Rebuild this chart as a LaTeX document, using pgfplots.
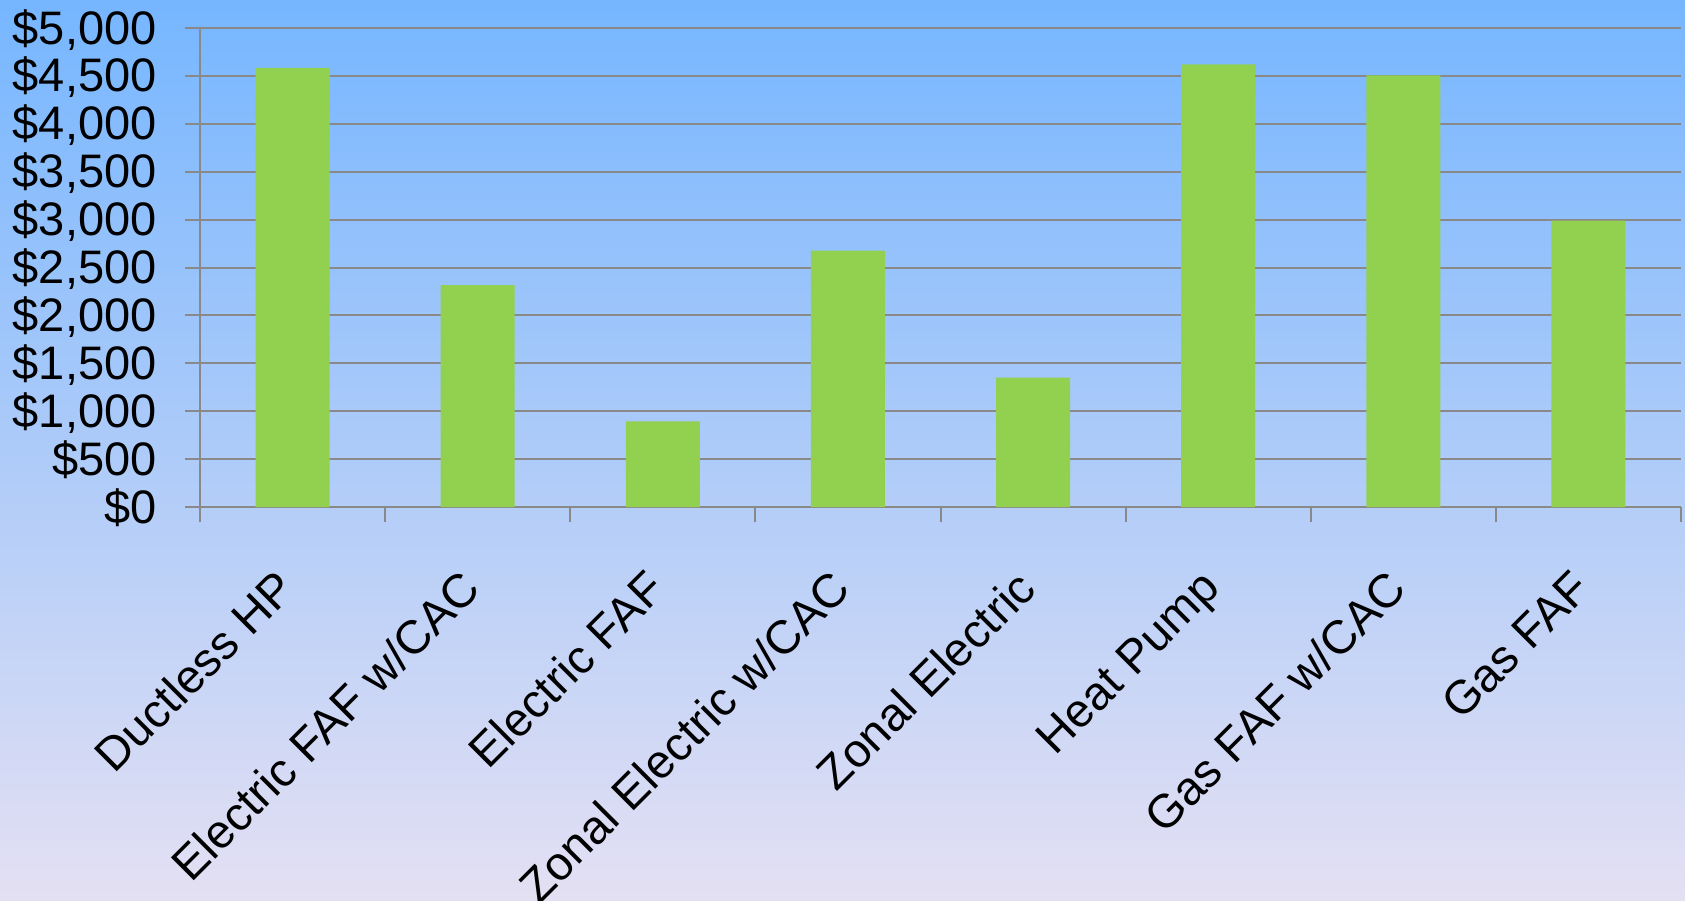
\documentclass[border=0pt]{standalone}
\usepackage{fontspec}
\setmainfont{Liberation Sans}
\usepackage{pgfplots}
\pgfplotsset{compat=1.18}
\definecolor{bgtop}{RGB}{118,182,255}
\definecolor{bgbot}{RGB}{228,224,243}
\definecolor{barg}{RGB}{146,208,80}
\definecolor{gridc}{RGB}{137,137,137}
\begin{document}
\begin{tikzpicture}
\path[use as bounding box] (0,0) rectangle (842.5pt,450pt);
\shade[top color=bgtop, bottom color=bgbot] (0,0) rectangle (842.5pt,450pt);
\begin{axis}[
  at={(100pt,196.5pt)}, anchor=south west,
  scale only axis, width=740.5pt, height=239.5pt,
  xmin=0, xmax=8, ymin=0, ymax=5000,
  axis x line*=bottom, axis y line*=left,
  axis line style={draw=gridc, line width=1pt},
  tick align=outside,
  major tick length=7.5pt,
  tick style={draw=gridc, line width=1pt},
  xtick={0,1,...,8},
  xticklabels={},
  extra x ticks={0.5,1.5,2.5,3.5,4.5,5.5,6.5,7.5},
  extra x tick labels={Ductless HP,Electric FAF w/CAC,Electric FAF,Zonal Electric w/CAC,Zonal Electric,Heat Pump,Gas FAF w/CAC,Gas FAF},
  extra x tick style={tick style={draw=none}},
  ytick={0,500,...,5000},
  yticklabels={\$0,\$500,{\$1,000},{\$1,500},{\$2,000},{\$2,500},{\$3,000},{\$3,500},{\$4,000},{\$4,500},{\$5,000}},
  ymajorgrids,
  grid style={draw=gridc, line width=1pt},
  tick label style={font=\fontsize{23.5}{28}\selectfont, text=black},
  xticklabel style={xshift=-9.5pt, yshift=-22.5pt, rotate=45, anchor=north east, inner sep=0pt},
  yticklabel style={anchor=base east, inner sep=0pt, yshift=-8pt, xshift=-14pt},
]
\addplot[ybar, bar width=0.4, fill=barg, draw=none] coordinates {
  (0.5,4585) (1.5,2315) (2.5,895) (3.5,2675) (4.5,1350) (5.5,4620) (6.5,4505) (7.5,2990)
};
\end{axis}
\end{tikzpicture}
\end{document}
